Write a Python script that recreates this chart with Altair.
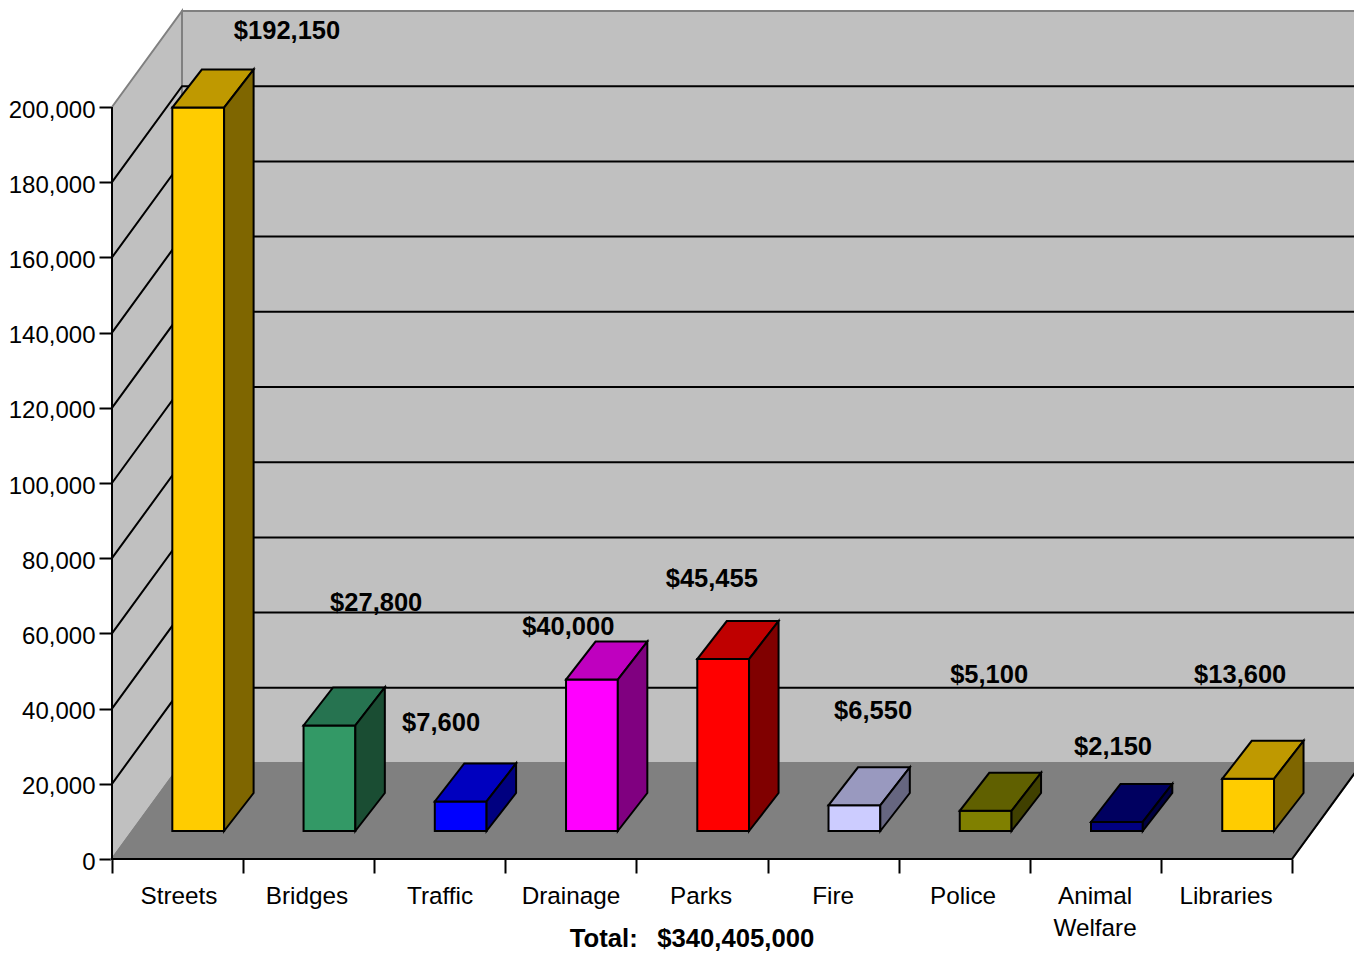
import altair as alt
import pandas as pd

# Chart values
categories = ["Streets", "Bridges", "Traffic", "Drainage", "Parks", "Fire", "Police", "Animal Welfare", "Libraries"]
values = [192150, 27800, 7600, 40000, 45455, 6550, 5100, 2150, 13600]
value_labels = ["$192,150", "$27,800", "$7,600", "$40,000", "$45,455", "$6,550", "$5,100", "$2,150", "$13,600"]
front_colors = ["#FFCC00", "#339966", "#0000FF", "#FF00FF", "#FF0000", "#CCCCFF", "#808000", "#000080", "#FFCC00"]
top_colors = ["#BF9900", "#267350", "#0000BF", "#BF00BF", "#BF0000", "#9999BF", "#606000", "#000060", "#BF9900"]
side_colors = ["#7F6600", "#1A4D33", "#000080", "#800080", "#800000", "#666680", "#404000", "#000040", "#7F6600"]
y_ticks = list(range(0, 200001, 20000))
total_text = "Total:\u00a0\u00a0\u2009$340,405,000"

# Label anchors, in chart units
label_x = [1.335, 2.015, 2.51, 3.48, 4.575, 5.805, 6.69, 7.635, 8.605]
label_y = [220200, 68000, 36200, 61800, 74500, 39300, 49000, 29800, 49000]
cat_x = [0.511, 1.487, 2.502, 3.501, 4.493, 5.5, 6.491, 7.498, 8.497]

# Geometry in chart units: one category slot in x, dollars in y
PLOT_W, PLOT_H = 1250, 848
X_MAX = 9 + 70 / 131.1
Y_MAX = 225532
DEPTH_X = 70 / 131.1
DEPTH_Y = 25532
BAR_START, BAR_WIDTH, BAR_PITCH = 0.46, 0.395, 1.001
BAR_SHIFT_Y = 7447
BAR_TOP_PAD = 266
BAR_DX, BAR_DY = 29.5 / 131.1, 10106
FONT = "Liberation Sans"
LINE = 2

xs = alt.Scale(domain=[0, X_MAX], nice=False, zero=False)
ys = alt.Scale(domain=[0, Y_MAX], nice=False, zero=False)
x_axis = alt.Axis(values=list(range(10)), labels=False, domain=False, grid=False, title=None,
                  tickSize=14, tickWidth=LINE, tickColor="black")
y_axis = alt.Axis(values=y_ticks, labelExpr="format(datum.value, ',')", domain=False, grid=False, title=None,
                  tickSize=13, tickWidth=LINE, tickColor="black", labelFont=FONT, labelFontSize=24,
                  labelColor="black", labelPadding=4, labelOffset=3)
X = alt.X("x:Q", scale=xs, axis=x_axis)
Y = alt.Y("y:Q", scale=ys, axis=y_axis)


def polys(rows):
    out = []
    for pid, fill, stroke, pts in rows:
        for k, (px, py) in enumerate(pts):
            out.append({"pid": pid, "fill": fill, "edge": stroke, "k": k, "x": px, "y": py})
    return pd.DataFrame(out)


def poly_layer(df, width):
    return alt.Chart(df).mark_line(interpolate="linear-closed", strokeWidth=width, strokeJoin="miter").encode(
        x=X, y=Y, order="k:Q", detail="pid:N",
        fill=alt.Fill("fill:N", scale=None),
        stroke=alt.Stroke("edge:N", scale=None),
    )


walls = polys([
    ("left", "#C0C0C0", "#808080", [(0, 0), (DEPTH_X, DEPTH_Y), (DEPTH_X, Y_MAX), (0, 200000)]),
    ("back", "#C0C0C0", "#808080", [(DEPTH_X, DEPTH_Y), (X_MAX, DEPTH_Y), (X_MAX, Y_MAX), (DEPTH_X, Y_MAX)]),
    ("floor", "#808080", "#808080", [(0, 0), (9, 0), (X_MAX, DEPTH_Y), (DEPTH_X, DEPTH_Y)]),
])

# Gridlines: diagonal across the left wall, then level across the back wall
grid_rows = []
for t in y_ticks[1:-1]:
    grid_rows.append({"g": f"d{t}", "k": 0, "x": 0, "y": t})
    grid_rows.append({"g": f"d{t}", "k": 1, "x": DEPTH_X, "y": t + DEPTH_Y})
    grid_rows.append({"g": f"d{t}", "k": 2, "x": X_MAX, "y": t + DEPTH_Y})
grid_df = pd.DataFrame(grid_rows)
grid = alt.Chart(grid_df).mark_line(color="black", strokeWidth=LINE).encode(
    x=X, y=Y, order="k:Q", detail="g:N")

# Front axes
frame_df = pd.DataFrame([
    {"g": "a", "k": 0, "x": 0, "y": 200000},
    {"g": "a", "k": 1, "x": 0, "y": 0},
    {"g": "a", "k": 2, "x": 9, "y": 0},
    {"g": "a", "k": 3, "x": X_MAX, "y": DEPTH_Y},
])
frame = alt.Chart(frame_df).mark_line(color="black", strokeWidth=LINE).encode(
    x=X, y=Y, order="k:Q", detail="g:N")

# 3D bars
bar_rows = []
for i, v in enumerate(values):
    x0 = i * BAR_PITCH + BAR_START
    x1 = x0 + BAR_WIDTH
    y0 = BAR_SHIFT_Y
    y1 = y0 + v + BAR_TOP_PAD
    bar_rows.append((f"{i}front", front_colors[i], "black", [(x0, y0), (x1, y0), (x1, y1), (x0, y1)]))
    bar_rows.append((f"{i}top", top_colors[i], "black",
                     [(x0, y1), (x1, y1), (x1 + BAR_DX, y1 + BAR_DY), (x0 + BAR_DX, y1 + BAR_DY)]))
    bar_rows.append((f"{i}side", side_colors[i], "black",
                     [(x1, y0), (x1 + BAR_DX, y0 + BAR_DY), (x1 + BAR_DX, y1 + BAR_DY), (x1, y1)]))
bars = poly_layer(polys(bar_rows), LINE)

cat_df = pd.DataFrame({
    "x": cat_x,
    "y": [0] * 9,
    "label": [c.split(" ") for c in categories],
})
cat_text = alt.Chart(cat_df).mark_text(
    font=FONT, fontSize=24.3, color="black", baseline="top", dy=26, lineHeight=32,
).encode(x=X, y=Y, text="label:N")

val_df = pd.DataFrame({"x": label_x, "y": label_y, "label": value_labels})
val_text = alt.Chart(val_df).mark_text(
    font=FONT, fontSize=25.5, fontWeight="bold", color="black", baseline="middle",
).encode(x=X, y=Y, text="label:N")

total = alt.Chart(pd.DataFrame({"x": [4.424], "y": [0], "label": [total_text]})).mark_text(
    font=FONT, fontSize=25.7, fontWeight="bold", color="black", baseline="middle", dy=80,
).encode(x=X, y=Y, text="label:N")

chart = alt.layer(
    poly_layer(walls, LINE), grid, frame, bars, cat_text, val_text, total
).properties(
    width=PLOT_W, height=PLOT_H,
    padding={"left": 104, "top": 3, "right": -8, "bottom": 94},
    autosize=alt.AutoSizeParams(type="none"),
    background="white",
).configure_view(stroke="transparent")

chart.save("out.html", embed_options={"renderer": "svg", "actions": False})
